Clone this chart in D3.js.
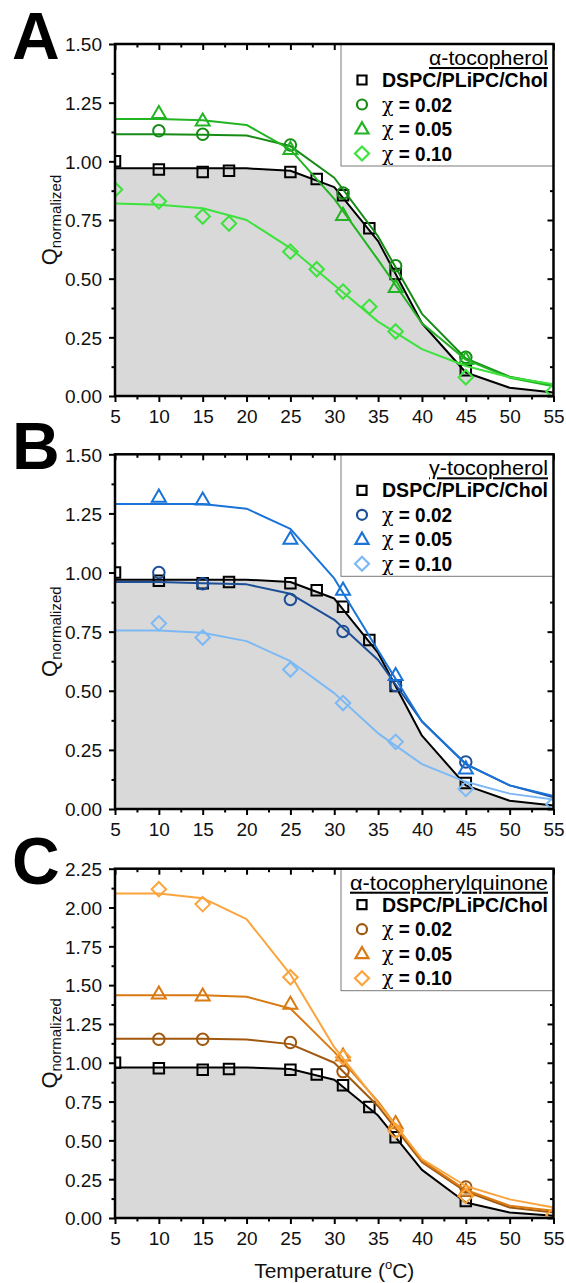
<!DOCTYPE html>
<html>
<head>
<meta charset="utf-8">
<script src="https://cdn.jsdelivr.net/npm/d3@7"></script>
<style>
  body { margin: 0; background: #fff; }
  svg { display: block; }
</style>
</head>
<body>
<script>
// ---- data ----
// temperatures (°C) of the fitted curves
const fitTemps = [5, 10, 15, 20, 25, 30, 35, 40, 45, 50, 55];

// reference membrane DSPC/PLiPC/Chol (same in every panel)
const refTemps = [5, 10, 15, 18, 25, 28, 31, 34, 37, 45];
const refQ     = [1.00, 0.965, 0.955, 0.96, 0.955, 0.925, 0.855, 0.715, 0.52, 0.11];
const refFit   = [0.97, 0.97, 0.97, 0.97, 0.96, 0.89, 0.66, 0.31, 0.10, 0.035, 0.015];

// temperatures measured for doped membranes
const dopedTemps = [10, 15, 25, 31, 37, 45];
const dopedTempsWide = [10, 15, 25, 31, 37, 45, 55];
const aToc10Temps = [5, 10, 15, 18, 25, 28, 31, 34, 37, 45, 55];

// A: alpha-tocopherol
const aToc02Q   = [1.13, 1.115, 1.07, 0.865, 0.555, 0.165];
const aToc02Fit = [1.115, 1.115, 1.113, 1.11, 1.065, 0.93, 0.68, 0.35, 0.16, 0.082, 0.047];
const aToc05Q   = [1.205, 1.173, 1.052, 0.771, 0.464, 0.157];
const aToc05Fit = [1.18, 1.18, 1.175, 1.155, 1.05, 0.84, 0.58, 0.31, 0.155, 0.078, 0.042];
const aToc10Q   = [0.88, 0.83, 0.765, 0.735, 0.615, 0.54, 0.445, 0.38, 0.275, 0.08, 0.02];
const aToc10Fit = [0.82, 0.815, 0.80, 0.75, 0.63, 0.473, 0.317, 0.20, 0.128, 0.08, 0.05];

// B: gamma-tocopherol
const gToc02Q   = [1.00, 0.953, 0.886, 0.751, 0.522, 0.199];
const gToc02Fit = [0.96, 0.96, 0.955, 0.95, 0.91, 0.80, 0.63, 0.37, 0.19, 0.10, 0.05];
const gToc05Q   = [1.32, 1.308, 1.142, 0.927, 0.566, 0.171];
const gToc05Fit = [1.29, 1.29, 1.29, 1.27, 1.185, 0.975, 0.67, 0.37, 0.19, 0.10, 0.055];
const gToc10Q   = [0.785, 0.725, 0.59, 0.448, 0.284, 0.085, 0.02];
const gToc10Fit = [0.755, 0.755, 0.745, 0.71, 0.625, 0.49, 0.32, 0.19, 0.115, 0.065, 0.04];

// C: alpha-tocopherylquinone
const tq02Q   = [1.151, 1.151, 1.13, 0.943, 0.56, 0.20];
const tq02Fit = [1.155, 1.155, 1.155, 1.15, 1.12, 1.00, 0.72, 0.36, 0.17, 0.068, 0.036];
const tq05Q   = [1.445, 1.432, 1.379, 1.045, 0.61, 0.174];
const tq05Fit = [1.435, 1.435, 1.435, 1.425, 1.35, 1.07, 0.75, 0.37, 0.18, 0.079, 0.047];
const tq10Q   = [2.118, 2.022, 1.551, 1.035, 0.561, 0.142, 0.02];
const tq10Fit = [2.09, 2.09, 2.06, 1.925, 1.57, 1.10, 0.74, 0.38, 0.206, 0.12, 0.068];

// axis ticks
const xTicks = [5, 10, 15, 20, 25, 30, 35, 40, 45, 50, 55];
const yTicksAB = [0, 0.25, 0.5, 0.75, 1.0, 1.25, 1.5];
const yTicksC  = [0, 0.25, 0.5, 0.75, 1.0, 1.25, 1.5, 1.75, 2.0, 2.25];

const seriesLabels = ["DSPC/PLiPC/Chol", "\u03C7 = 0.02", "\u03C7 = 0.05", "\u03C7 = 0.10"];
const panelLetters = ["A", "B", "C"];
const panelTitles  = ["\u03B1-tocopherol", "\u03B3-tocopherol", "\u03B1-tocopherylquinone"];

// ---- layout ----
const W = 566, H = 1283;
const FONT = "'Liberation Sans', Arial, Helvetica, sans-serif";
const left = 115, right = 553.5;

const svg = d3.select("body").append("svg")
  .attr("width", W).attr("height", H)
  .attr("font-family", FONT);

const x = d3.scaleLinear().domain([5, 55]).range([left, right]);

const panels = [
  {
    top: 44, bottom: 396, yMax: 1.5, yTicks: yTicksAB, titleWidth: 119,
    series: [
      { color: "#000000", shape: "square",   t: refTemps,    q: refQ,    fit: refFit },
      { color: "#168c16", shape: "circle",   t: dopedTemps,  q: aToc02Q, fit: aToc02Fit },
      { color: "#22b422", shape: "triangle", t: dopedTemps,  q: aToc05Q, fit: aToc05Fit },
      { color: "#3de23d", shape: "diamond",  t: aToc10Temps, q: aToc10Q, fit: aToc10Fit }
    ]
  },
  {
    top: 454.3, bottom: 809, yMax: 1.5, yTicks: yTicksAB, titleWidth: 119,
    series: [
      { color: "#000000", shape: "square",   t: refTemps,       q: refQ,    fit: refFit },
      { color: "#1d4f97", shape: "circle",   t: dopedTemps,     q: gToc02Q, fit: gToc02Fit },
      { color: "#1a73d8", shape: "triangle", t: dopedTemps,     q: gToc05Q, fit: gToc05Fit },
      { color: "#7cb9f4", shape: "diamond",  t: dopedTempsWide, q: gToc10Q, fit: gToc10Fit }
    ]
  },
  {
    top: 868.7, bottom: 1218, yMax: 2.25, yTicks: yTicksC, titleWidth: 198,
    series: [
      { color: "#000000", shape: "square",   t: refTemps,       q: refQ,   fit: refFit },
      { color: "#a0580f", shape: "circle",   t: dopedTemps,     q: tq02Q,  fit: tq02Fit },
      { color: "#d97a12", shape: "triangle", t: dopedTemps,     q: tq05Q,  fit: tq05Fit },
      { color: "#fba43c", shape: "diamond",  t: dopedTempsWide, q: tq10Q,  fit: tq10Fit }
    ]
  }
];

// open marker outlines
function markerPath(shape, s) {
  const p = d3.path();
  if (shape === "square") {
    p.rect(-s / 2, -s / 2, s, s);
  } else if (shape === "circle") {
    p.arc(0, 0, s / 2, 0, 2 * Math.PI);
  } else if (shape === "triangle") {
    const h = s * Math.sqrt(3) / 2;
    p.moveTo(0, -h * 0.6); p.lineTo(s / 2, h * 0.4); p.lineTo(-s / 2, h * 0.4); p.closePath();
  } else if (shape === "diamond") {
    const r = s / 2;
    p.moveTo(0, -r); p.lineTo(r, 0); p.lineTo(0, r); p.lineTo(-r, 0); p.closePath();
  }
  return p.toString();
}
const plotSize   = { square: 10.5, circle: 11.5, triangle: 14, diamond: 14.5 };
const legendSize = { square: 9,    circle: 10,   triangle: 13, diamond: 14 };

function minorBetween(ticks) {
  const out = [];
  for (let i = 0; i < ticks.length - 1; i++) out.push((ticks[i] + ticks[i + 1]) / 2);
  return out;
}

panels.forEach((P, pi) => {
  const y = d3.scaleLinear().domain([0, P.yMax]).range([P.bottom, P.top]);
  const g = svg.append("g");
  const clipId = "clip" + pi;
  svg.append("defs").append("clipPath").attr("id", clipId)
    .append("rect").attr("x", left).attr("y", P.top)
    .attr("width", right - left).attr("height", P.bottom - P.top);

  const plot = g.append("g").attr("clip-path", `url(#${clipId})`);

  // shaded area under the reference fit
  const ref = P.series[0];
  const fitPts = fitTemps.map((t, i) => [t, ref.fit[i]]);
  plot.append("path")
    .attr("d", d3.area().x(d => x(d[0])).y0(y(0)).y1(d => y(d[1]))(fitPts))
    .attr("fill", "#d9d9d9");

  const line = d3.line().x(d => x(d[0])).y(d => y(d[1]));
  P.series.forEach(S => {
    plot.append("path")
      .attr("d", line(fitTemps.map((t, i) => [t, S.fit[i]])))
      .attr("fill", "none").attr("stroke", S.color)
      .attr("stroke-width", 2).attr("stroke-linejoin", "round");
    plot.selectAll(null).data(S.t.map((t, i) => [t, S.q[i]])).enter()
      .append("path")
      .attr("transform", d => `translate(${x(d[0])},${y(d[1])})`)
      .attr("d", markerPath(S.shape, plotSize[S.shape]))
      .attr("fill", "none").attr("stroke", S.color).attr("stroke-width", 2);
  });

  // axes: ticks outward on left/bottom, mirrored inward on top/right
  const axes = g.append("g");
  const xMinor = minorBetween(xTicks);
  const yMinor = minorBetween(P.yTicks);
  const fmt = d3.format(".2f");

  const bottomAx = axes.append("g").attr("transform", `translate(0,${P.bottom})`)
    .call(d3.axisBottom(x).tickValues(xTicks).tickSize(6).tickPadding(8).tickFormat(d3.format("d")));
  axes.append("g").attr("transform", `translate(0,${P.bottom})`)
    .call(d3.axisBottom(x).tickValues(xMinor).tickSize(3.5).tickFormat(""));
  axes.append("g").attr("transform", `translate(0,${P.top})`)
    .call(d3.axisTop(x).tickValues(xTicks).tickSize(-6).tickFormat(""));
  axes.append("g").attr("transform", `translate(0,${P.top})`)
    .call(d3.axisTop(x).tickValues(xMinor).tickSize(-3.5).tickFormat(""));

  const leftAx = axes.append("g").attr("transform", `translate(${left},0)`)
    .call(d3.axisLeft(y).tickValues(P.yTicks).tickSize(6).tickPadding(7).tickFormat(fmt));
  axes.append("g").attr("transform", `translate(${left},0)`)
    .call(d3.axisLeft(y).tickValues(yMinor).tickSize(3.5).tickFormat(""));
  axes.append("g").attr("transform", `translate(${right},0)`)
    .call(d3.axisRight(y).tickValues(P.yTicks).tickSize(-6).tickFormat(""));
  axes.append("g").attr("transform", `translate(${right},0)`)
    .call(d3.axisRight(y).tickValues(yMinor).tickSize(-3.5).tickFormat(""));

  axes.selectAll(".domain").remove();
  axes.selectAll(".tick line").attr("stroke", "#000").attr("stroke-width", 2);
  axes.selectAll(".tick text").attr("font-family", FONT).attr("font-size", 19).attr("fill", "#111");
  bottomAx.selectAll(".tick text").attr("dy", null).attr("y", 27);
  leftAx.selectAll(".tick text").attr("dy", "0.36em");

  // legend (covers the mirrored ticks behind it)
  const lg = g.append("g");
  const lx = 341, lw = right - lx;
  lg.append("rect").attr("x", lx).attr("y", P.top).attr("width", lw).attr("height", 122)
    .attr("fill", "#fff").attr("stroke", "#7a7a7a").attr("stroke-width", 1);
  lg.append("text").attr("x", 548).attr("y", P.top + 21)
    .attr("text-anchor", "end").attr("font-size", 20.5)
    .attr("text-decoration", "underline")
    .attr("textLength", P.titleWidth).attr("lengthAdjust", "spacingAndGlyphs")
    .text(panelTitles[pi]);
  P.series.forEach((S, i) => {
    const cy = P.top + 43 + i * 24.5;
    lg.append("path").attr("transform", `translate(362,${cy - 7})`)
      .attr("d", markerPath(S.shape, legendSize[S.shape]))
      .attr("fill", "none").attr("stroke", S.color).attr("stroke-width", 2.2);
    const t = lg.append("text").attr("x", 382).attr("y", cy)
      .attr("font-size", 20).attr("font-weight", "bold")
      .attr("textLength", i === 0 ? 166 : 70).attr("lengthAdjust", "spacingAndGlyphs");
    if (i === 0) {
      t.text(seriesLabels[i]);
    } else {
      t.append("tspan").attr("font-weight", "normal").attr("font-family", "'DejaVu Serif', serif").text("\u03C7");
      t.append("tspan").text(seriesLabels[i].slice(1));
    }
  });

  // frame
  g.append("rect").attr("x", left).attr("y", P.top)
    .attr("width", right - left).attr("height", P.bottom - P.top)
    .attr("fill", "none").attr("stroke", "#000").attr("stroke-width", 2.5);

  // y title
  const yt = g.append("text")
    .attr("transform", `translate(57,${(P.top + P.bottom) / 2}) rotate(-90)`)
    .attr("text-anchor", "middle").attr("fill", "#111");
  yt.append("tspan").attr("font-size", 22).text("Q");
  yt.append("tspan").attr("font-size", 15).attr("dy", 4).text("normalized");

  // panel letter
  g.append("text").attr("x", 12).attr("y", P.top + 15)
    .attr("font-size", 66).attr("font-weight", "bold").text(panelLetters[pi]);
});

// x title
const xt = svg.append("text").attr("x", (left + right) / 2).attr("y", 1278)
  .attr("text-anchor", "middle").attr("font-size", 21).attr("fill", "#111");
xt.append("tspan").text("Temperature (");
xt.append("tspan").attr("font-size", 13).attr("dy", -9).text("o");
xt.append("tspan").attr("dy", 9).text("C)");
</script>
</body>
</html>
